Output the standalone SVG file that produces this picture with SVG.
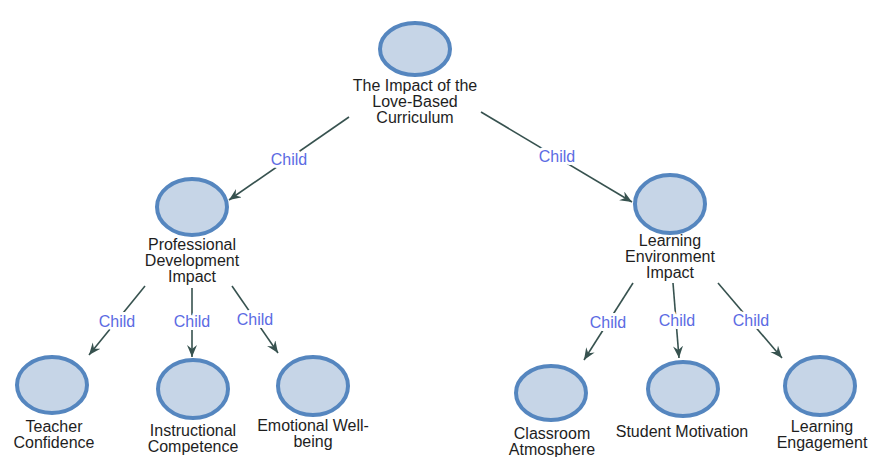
<svg xmlns="http://www.w3.org/2000/svg" width="871" height="457" viewBox="0 0 871 457">
<style>
.node ellipse{fill:#c6d5e7;stroke:#5586bf;stroke-width:4}
.node text{font-family:"Liberation Sans",Arial,sans-serif;font-size:16px;fill:#1e1e1e;text-anchor:middle}
.edges line{stroke:#37524f;stroke-width:1.6;marker-end:url(#arr)}
.edges text{font-family:"Liberation Sans",Arial,sans-serif;font-size:16px;fill:#5b6be3;text-anchor:middle;stroke:#fff;stroke-width:6;stroke-linejoin:round;paint-order:stroke}
</style>
<defs>
<marker id="arr" markerUnits="userSpaceOnUse" markerWidth="14" markerHeight="12" refX="12" refY="5" orient="auto">
<path d="M0,0 L12,5 L0,10 L4,5 z" fill="#37524f"/>
</marker>
</defs>
<rect width="871" height="457" fill="#fff"/>
<g class="edges" id="connectors">
<line x1="349" y1="117" x2="229" y2="200"/>
<text x="289" y="165">Child</text>
<line x1="481" y1="112" x2="632" y2="202"/>
<text x="557" y="162">Child</text>
<line x1="145" y1="286" x2="89" y2="355"/>
<text x="117" y="327">Child</text>
<line x1="192" y1="288" x2="192" y2="357"/>
<text x="192" y="327">Child</text>
<line x1="232" y1="286" x2="278" y2="353"/>
<text x="255" y="325">Child</text>
<line x1="633" y1="283" x2="584" y2="360"/>
<text x="608" y="328">Child</text>
<line x1="673" y1="283" x2="679" y2="358"/>
<text x="677" y="326">Child</text>
<line x1="718" y1="283" x2="782" y2="358"/>
<text x="751" y="326">Child</text>
</g>
<g class="node" id="root">
<ellipse cx="415" cy="49" rx="35" ry="26"/>
<text x="415" y="91">The Impact of the</text>
<text x="415" y="107">Love-Based</text>
<text x="415" y="123">Curriculum</text>
</g>
<g class="node" id="professional">
<ellipse cx="192" cy="207" rx="35" ry="28"/>
<text x="192" y="250">Professional</text>
<text x="192" y="266">Development</text>
<text x="192" y="282">Impact</text>
</g>
<g class="node" id="learning-env">
<ellipse cx="670" cy="204" rx="35" ry="29"/>
<text x="670" y="246">Learning</text>
<text x="670" y="262">Environment</text>
<text x="670" y="278">Impact</text>
</g>
<g class="node" id="teacher">
<ellipse cx="52" cy="385" rx="35" ry="28"/>
<text x="54" y="432">Teacher</text>
<text x="54" y="448">Confidence</text>
</g>
<g class="node" id="instructional">
<ellipse cx="193" cy="389" rx="35" ry="29"/>
<text x="193" y="436">Instructional</text>
<text x="193" y="452">Competence</text>
</g>
<g class="node" id="emotional">
<ellipse cx="313" cy="386" rx="35" ry="29"/>
<text x="313" y="431">Emotional Well-</text>
<text x="313" y="447">being</text>
</g>
<g class="node" id="classroom">
<ellipse cx="551" cy="393" rx="35" ry="27"/>
<text x="552" y="439">Classroom</text>
<text x="552" y="455">Atmosphere</text>
</g>
<g class="node" id="motivation">
<ellipse cx="683" cy="389" rx="35" ry="27"/>
<text x="682" y="437">Student Motivation</text>
</g>
<g class="node" id="engagement">
<ellipse cx="820" cy="386" rx="35" ry="29"/>
<text x="822" y="432">Learning</text>
<text x="822" y="448">Engagement</text>
</g>
</svg>
